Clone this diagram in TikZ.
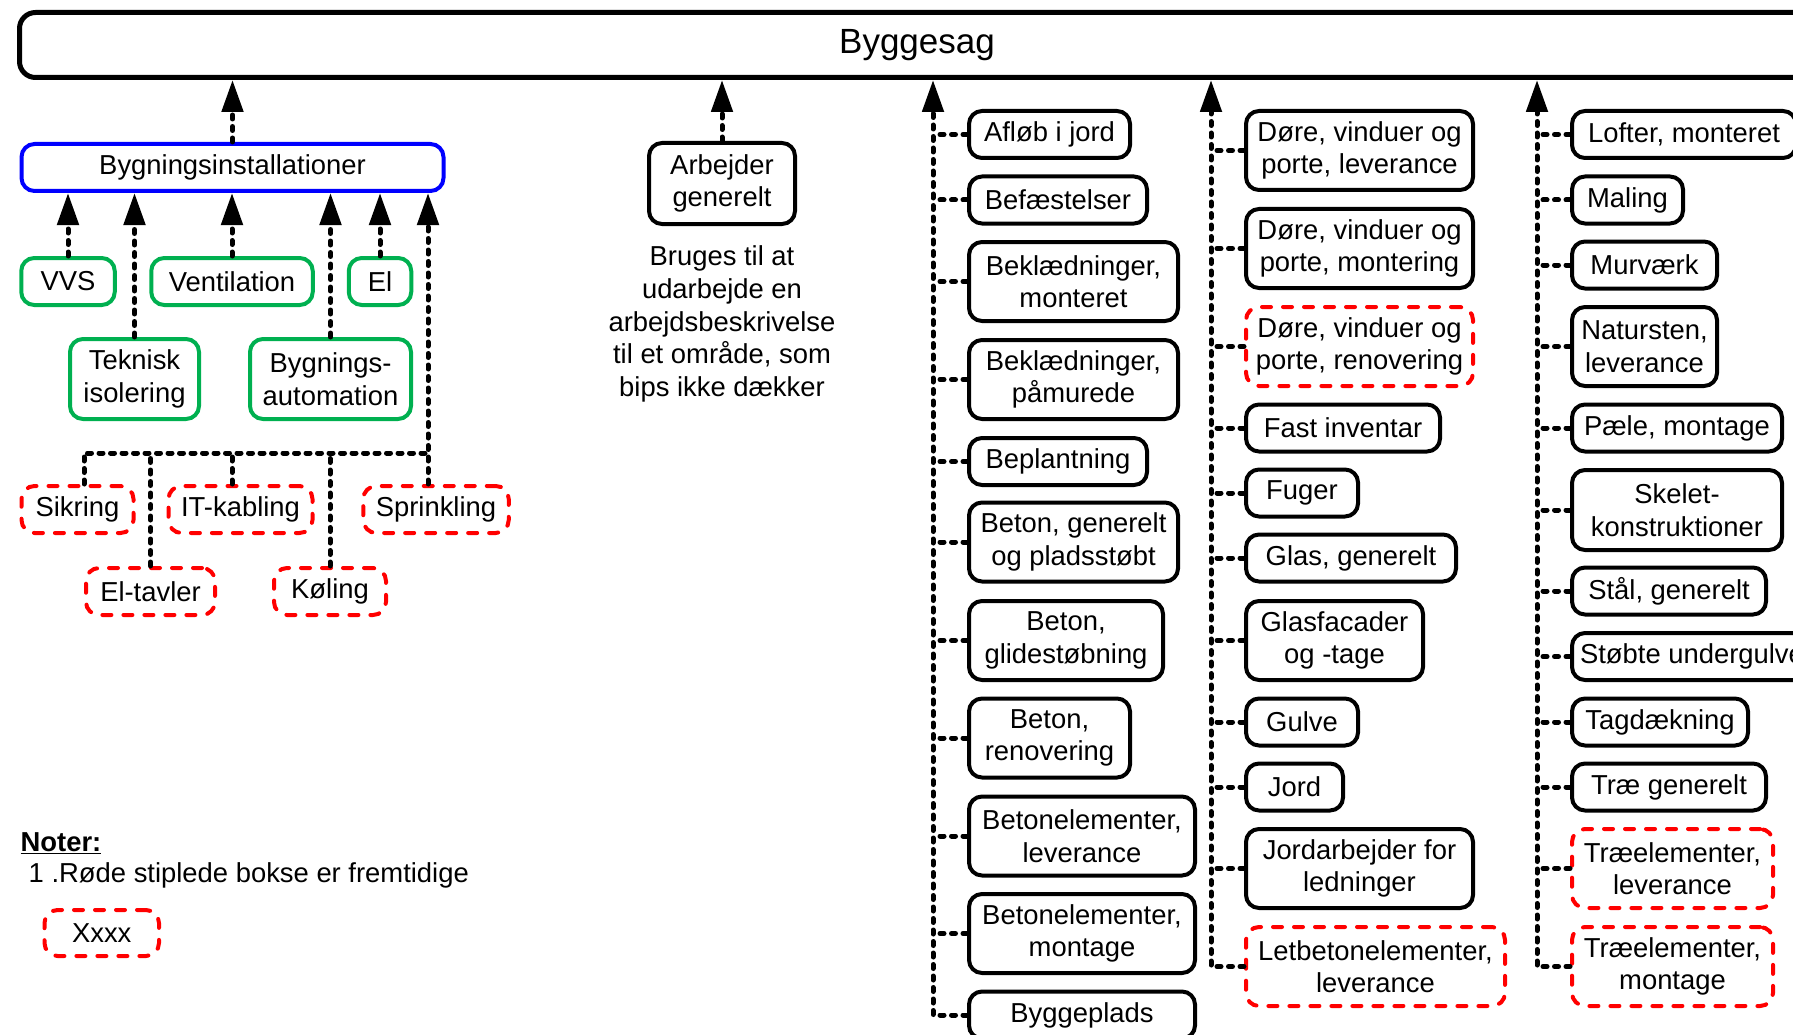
\documentclass[tikz,border=0pt]{standalone}
\usepackage{fontspec}
\setmainfont{Liberation Sans}
\usetikzlibrary{arrows.meta}
\newcommand\cfnt{\fontsize{27.4}{32.5}\selectfont}
\definecolor{bgreen}{RGB}{0,176,80}
\begin{document}
\begin{tikzpicture}[x=1pt,y=-1pt,
  box/.style={draw=black, line width=4pt, rounded corners=13pt, inner sep=0pt, align=center, font=\cfnt, minimum height=47pt},
  cb/.style={box, anchor=west},
  two/.style={minimum height=79pt},
  lbox/.style={box},
  fut/.style={draw=red, dash pattern=on 9pt off 12pt, line cap=round},
  inst/.style={draw=blue},
  grn/.style={draw=bgreen},
  conn/.style={draw=black, line width=5pt, dash pattern=on 4pt off 7.5pt, line cap=round},
  arr/.style={-{Triangle[length=32pt,width=21pt]}},
  txt/.style={inner sep=0pt}
]
\useasboundingbox (0,0) rectangle (1793,1035);
\clip (0,0) rectangle (1793,1035);

% title
\node[box, line width=5pt, rounded corners=16pt, minimum width=1795pt, minimum height=65pt, font=\fontsize{35}{40}\selectfont] (byggesag) at (917,45) {Byggesag};

% left group
\node[lbox, inst, minimum width=422pt] (bygi) at (232.5,167.5) {Bygningsinstallationer};
\node[lbox, grn, minimum width=93.5pt] (vvs) at (68,281.5) {VVS};
\node[lbox, grn, minimum width=161.5pt] (vent) at (232,281.5) {Ventilation};
\node[lbox, grn, minimum width=62.5pt] (el) at (380,281.5) {El};
\node[lbox, grn, minimum width=129pt, minimum height=80pt] (tek) at (134.5,379) {Teknisk\\isolering};
\node[lbox, grn, minimum width=161pt, minimum height=80pt] (bauto) at (330.5,379) {Bygnings-\\automation};
\node[lbox, fut, minimum width=112pt] (sikring) at (77.5,509.5) {Sikring};
\node[lbox, fut, minimum width=144pt] (itk) at (240.5,509.5) {IT-kabling};
\node[lbox, fut, minimum width=145.5pt] (sprink) at (436,509.5) {Sprinkling};
\node[lbox, fut, minimum width=129pt] (eltav) at (150.5,591.5) {El-tavler};
\node[lbox, fut, minimum width=112pt] (koling) at (330,591.5) {Køling};

\coordinate (bus) at (0,453);
\draw[conn,arr] (bygi.north) -- (bygi.north |- byggesag.south);
\draw[conn,arr] (vvs.north) -- (vvs.north |- bygi.south);
\draw[conn,arr] (tek.north) -- (tek.north |- bygi.south);
\draw[conn,arr] (vent.north) -- (vent.north |- bygi.south);
\draw[conn,arr] (bauto.north) -- (bauto.north |- bygi.south);
\draw[conn,arr] (el.north) -- (el.north |- bygi.south);
\draw[conn,arr] ([xshift=-8pt]sprink.north) -- ([xshift=-8pt]sprink.north |- bygi.south);
\draw[conn] ([xshift=6.5pt]sikring.north) |- ([xshift=-8pt]sprink.north |- bus);
\draw[conn] ([xshift=-8.5pt]itk.north) -- ([xshift=-8.5pt]itk.north |- bus);
\draw[conn] (eltav.north) -- (eltav.north |- bus);
\draw[conn] (koling.north) -- (koling.north |- bus);

% Arbejder generelt
\node[box, minimum width=146pt, minimum height=81pt] (arb) at (722,183.5) {Arbejder\\generelt};
\draw[conn,arr] (arb.north) -- (arb.north |- byggesag.south);
\node[txt, align=center, font=\fontsize{27.4}{32.75}\selectfont] (bruges) at (722,324) {Bruges til at\\udarbejde en\\arbejdsbeskrivelse\\til et område, som\\bips ikke dækker};

% column 1
\coordinate (c1) at (933,0);
\node[cb, minimum width=161pt] (aflob) at (967,134.5) {Afløb i jord};
\node[cb, minimum width=178pt] (befa) at (967,200) {Befæstelser};
\node[cb, two, minimum width=209pt] (bekm) at (967,281.5) {Beklædninger,\\monteret};
\node[cb, two, minimum width=209pt] (bekp) at (967,379.5) {Beklædninger,\\påmurede};
\node[cb, minimum width=178pt] (bepl) at (967,461.5) {Beplantning};
\node[cb, two, minimum width=209pt] (betg) at (967,542) {Beton, generelt\\og pladsstøbt};
\node[cb, two, minimum width=194pt] (betgl) at (967,640.5) {Beton,\\glidestøbning};
\node[cb, two, minimum width=161pt] (betr) at (967,738) {Beton,\\renovering};
\node[cb, two, minimum width=226pt] (bel) at (967,836) {Betonelementer,\\leverance};
\node[cb, two, minimum width=226pt] (bem) at (967,933.5) {Betonelementer,\\montage};
\node[cb, minimum width=226pt] (bygp) at (967,1015) {Byggeplads};
\draw[conn,arr] (bygp.west) -| (c1 |- byggesag.south);
\foreach \n in {aflob,befa,bekm,bekp,bepl,betg,betgl,betr,bel,bem}
  \draw[conn] (\n.west) -- (\n.west -| c1);

% column 2
\coordinate (c2) at (1211,0);
\node[cb, two, minimum width=227pt] (dl) at (1244,150.5) {Døre, vinduer og\\porte, leverance};
\node[cb, two, minimum width=227pt] (dm) at (1244,248.5) {Døre, vinduer og\\porte, montering};
\node[cb, two, fut, minimum width=227pt] (dr) at (1244,346.5) {Døre, vinduer og\\porte, renovering};
\node[cb, minimum width=194pt] (fast) at (1244,428) {Fast inventar};
\node[cb, minimum width=112pt] (fuger) at (1244,493) {Fuger};
\node[cb, minimum width=210pt] (glas) at (1244,558) {Glas, generelt};
\node[cb, two, minimum width=177pt] (glasf) at (1244,640.5) {Glasfacader\\og -tage};
\node[cb, minimum width=112pt] (gulve) at (1244,722) {Gulve};
\node[cb, minimum width=97pt] (jord) at (1244,787) {Jord};
\node[cb, two, minimum width=227pt] (jordl) at (1244,868.5) {Jordarbejder for\\ledninger};
\node[cb, two, fut, minimum width=259pt] (letb) at (1244,966.5) {Letbetonelementer,\\leverance};
\draw[conn,arr] (letb.west) -| (c2 |- byggesag.south);
\foreach \n in {dl,dm,dr,fast,fuger,glas,glasf,gulve,jord,jordl}
  \draw[conn] (\n.west) -- (\n.west -| c2);

% column 3
\coordinate (c3) at (1537,0);
\node[cb, minimum width=224pt] (lofter) at (1570,134.5) {Lofter, monteret};
\node[cb, minimum width=111pt] (maling) at (1570,200) {Maling};
\node[cb, minimum width=145pt] (murv) at (1570,265) {Murværk};
\node[cb, two, minimum width=145pt] (natur) at (1570,346.5) {Natursten,\\leverance};
\node[cb, minimum width=210pt] (paele) at (1570,428) {Pæle, montage};
\node[cb, two, minimum width=210pt, minimum height=80pt] (skelet) at (1570,510) {Skelet-\\konstruktioner};
\node[cb, minimum width=194pt] (staal) at (1570,591) {Stål, generelt};
\node[cb, minimum width=240pt] (stobte) at (1570,656.5) {Støbte undergulve};
\node[cb, minimum width=176pt] (tag) at (1570,722) {Tagdækning};
\node[cb, minimum width=194pt] (trae) at (1570,787) {Træ generelt};
\node[cb, two, fut, minimum width=201pt] (tel) at (1570,868.5) {Træelementer,\\leverance};
\node[cb, two, fut, minimum width=201pt] (tem) at (1570,966.5) {Træelementer,\\montage};
\draw[conn,arr] (tem.west) -| (c3 |- byggesag.south);
\foreach \n in {lofter,maling,murv,natur,paele,skelet,staal,stobte,tag,trae,tel}
  \draw[conn] (\n.west) -- (\n.west -| c3);

% notes
\node[txt, anchor=west, font=\cfnt\bfseries] (noter) at (20.5,843) {\underline{Noter:}};
\node[txt, anchor=west, font=\cfnt] (note1) at (28.5,875) {1 .Røde stiplede bokse er fremtidige};
\node[lbox, fut, minimum width=114.5pt, minimum height=46pt] (xxxx) at (101.75,933) {Xxxx};
\end{tikzpicture}
\end{document}
